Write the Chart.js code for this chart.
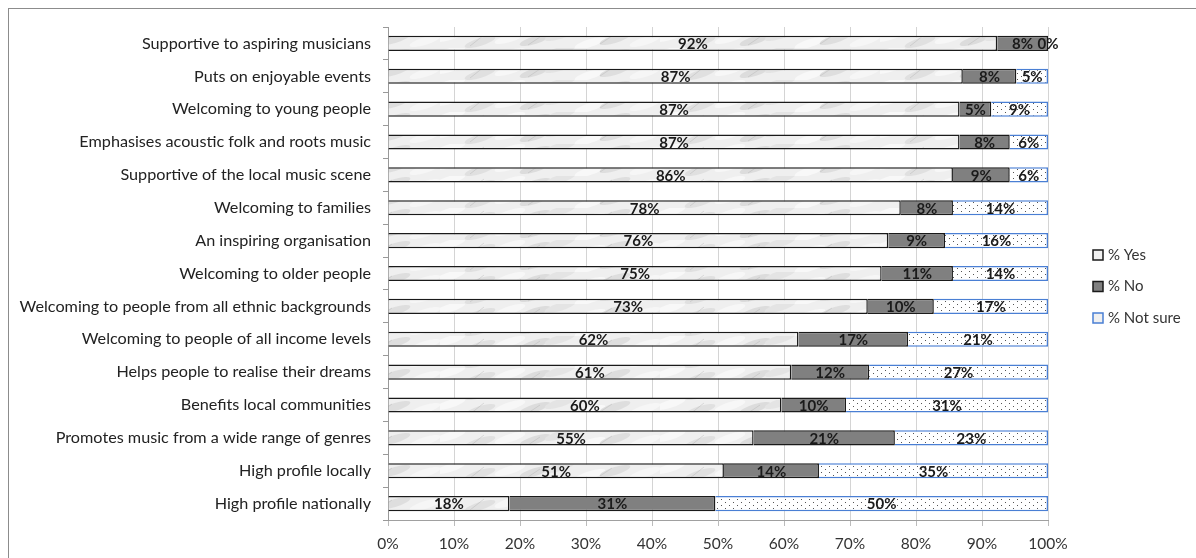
<!DOCTYPE html>
<html>
<head>
<meta charset="utf-8">
<script src="https://cdn.jsdelivr.net/npm/chart.js@4"></script>
<style>
  html, body { margin: 0; padding: 0; background: #fff; overflow: hidden; }
  #frame { position: absolute; left: 8px; top: 8px; width: 1200px; height: 600px; border: 1px solid #8c8c8c; }
  #wrap { position: absolute; left: 0; top: 0; width: 1196px; height: 558px; }
</style>
</head>
<body>
<div id="frame"></div>
<div id="wrap"><canvas id="chart"></canvas></div>
<script>
const categorias = [
    'Supportive to aspiring musicians',
    'Puts on enjoyable events',
    'Welcoming to young people',
    'Emphasises acoustic folk and roots music',
    'Supportive of the local music scene',
    'Welcoming to families',
    'An inspiring organisation',
    'Welcoming to older people',
    'Welcoming to people from all ethnic backgrounds',
    'Welcoming to people of all income levels',
    'Helps people to realise their dreams',
    'Benefits local communities',
    'Promotes music from a wide range of genres',
    'High profile locally',
    'High profile nationally'
];
const valoresSi = [92.3, 87.1, 86.6, 86.6, 85.6, 77.7, 75.8, 74.8, 72.7, 62.2, 61.1, 59.6, 55.4, 50.9, 18.4];
const valoresNo = [7.7, 8.1, 4.8, 7.6, 8.6, 7.9, 8.6, 10.8, 10.0, 16.6, 11.8, 9.8, 21.4, 14.4, 31.2];
const valoresNoSeguro = [0, 4.8, 8.6, 5.8, 5.8, 14.4, 15.6, 14.4, 17.3, 21.2, 27.1, 30.6, 23.2, 34.7, 50.4];
const ticksX = [0, 10, 20, 30, 40, 50, 60, 70, 80, 90, 100];

const fuente = 'Lato, "Open Sans", sans-serif';

// textura "marmol" para % Yes
function patronMarmol() {
    const c = document.createElement('canvas');
    c.width = 220; c.height = 16;
    const g = c.getContext('2d');
    g.fillStyle = '#efefef';
    g.fillRect(0, 0, 220, 16);
    const manchas = [[10, 4, '#f8f8f8'], [40, 10, '#e0e0e0'], [70, 6, '#f7f7f7'], [95, 8, '#dcdcdc'],
                     [120, 3, '#e4e4e4'], [150, 11, '#f8f8f8'], [175, 7, '#dedede'], [205, 9, '#f6f6f6']];
    manchas.forEach(m => {
        g.fillStyle = m[2];
        g.beginPath();
        g.ellipse(m[0], m[1], 16, 4, -0.3, 0, Math.PI * 2);
        g.fill();
    });
    g.strokeStyle = 'rgba(170,170,170,0.35)';
    g.lineWidth = 1;
    [[30, 14, 44, 3], [88, 13, 100, 5], [160, 12, 172, 4]].forEach(l => {
        g.beginPath(); g.moveTo(l[0], l[1]); g.lineTo(l[2], l[3]); g.stroke();
    });
    return g.createPattern(c, 'repeat');
}

function patronPuntos() {
    const c = document.createElement('canvas');
    c.width = 8; c.height = 6;
    const g = c.getContext('2d');
    g.fillStyle = '#ffffff';
    g.fillRect(0, 0, 8, 6);
    g.fillStyle = '#555';
    g.fillRect(1, 1, 1, 1);
    g.fillRect(5, 4, 1, 1);
    return g.createPattern(c, 'repeat');
}

const etiquetasPlugin = {
    id: 'etiquetas',
    afterDatasetsDraw(chart) {
        const ctx = chart.ctx;
        ctx.save();
        ctx.font = 'bold 15px ' + fuente;
        ctx.fillStyle = '#1a1a1a';
        ctx.textAlign = 'center';
        ctx.textBaseline = 'middle';
        chart.data.datasets.forEach((ds, i) => {
            chart.getDatasetMeta(i).data.forEach((bar, j) => {
                const x = (bar.x + bar.base) / 2;
                ctx.fillText(Math.round(ds.data[j]) + '%', x, bar.y + 1);
            });
        });
        ctx.restore();
    }
};

const leyendaPlugin = {
    id: 'leyenda',
    afterDraw(chart) {
        const ctx = chart.ctx;
        ctx.save();
        ctx.font = '15px ' + fuente;
        ctx.textBaseline = 'middle';
        chart.data.datasets.forEach((ds, i) => {
            const y = 255 + i * 31.5;
            const x = 1093;
            ctx.fillStyle = i === 1 ? '#808080' : '#f0f0f0';
            ctx.fillRect(x, y - 5, 10, 10);
            ctx.lineWidth = 1.5;
            ctx.strokeStyle = ds.borderColor;
            ctx.strokeRect(x, y - 5, 10, 10);
            ctx.fillStyle = '#333';
            ctx.fillText(ds.label, x + 15, y);
        });
        ctx.restore();
    }
};

const ctx = document.getElementById('chart').getContext('2d');
new Chart(ctx, {
    type: 'bar',
    data: {
        labels: categorias,
        datasets: [{
            label: '% Yes',
            data: valoresSi,
            backgroundColor: patronMarmol(),
            borderColor: '#1a1a1a',
            borderWidth: 1.5
        }, {
            label: '% No',
            data: valoresNo,
            backgroundColor: '#808080',
            borderColor: '#1a1a1a',
            borderWidth: 1.5
        }, {
            label: '% Not sure',
            data: valoresNoSeguro,
            backgroundColor: patronPuntos(),
            borderColor: '#4a7fd4',
            borderWidth: 1.5
        }]
    },
    options: {
        indexAxis: 'y',
        responsive: true,
        maintainAspectRatio: false,
        animation: false,
        layout: { padding: { top: 27, right: 148, bottom: 0, left: 0 } },
        datasets: { bar: { categoryPercentage: 1, barPercentage: 0.46 } },
        scales: {
            x: {
                stacked: true,
                min: 0,
                max: 100,
                afterBuildTicks: axis => { axis.ticks = ticksX.map(v => ({ value: v })); },
                afterFit: axis => { axis.height = 38; },
                ticks: {
                    callback: v => v + '%',
                    font: { family: fuente, size: 15.5 },
                    color: '#333',
                    padding: 9
                },
                grid: { color: '#d4d4d4', tickLength: 6, tickColor: '#bbb' },
                border: { color: '#a0a0a0' }
            },
            y: {
                stacked: true,
                afterFit: axis => { axis.width = 388; },
                ticks: {
                    font: { family: fuente, size: 16.2 },
                    color: '#222',
                    padding: 12,
                    autoSkip: false
                },
                grid: { drawOnChartArea: false, tickLength: 5, color: '#999', offset: true },
                border: { color: '#999' }
            }
        },
        plugins: {
            legend: { display: false },
            tooltip: { enabled: false }
        }
    },
    plugins: [etiquetasPlugin, leyendaPlugin]
});
</script>
</body>
</html>
